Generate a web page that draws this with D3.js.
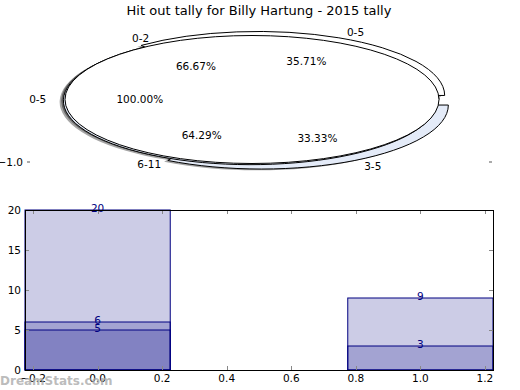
<!DOCTYPE html>
<html><head><meta charset="utf-8">
<script src="https://cdn.jsdelivr.net/npm/d3@7"></script>
<style>body{margin:0;background:#fff}svg{display:block;font-family:"DejaVu Sans",sans-serif}</style>
</head><body>
<svg id="c" width="520" height="390"></svg>
<script>
const title = "Hit out tally for Billy Hartung - 2015 tally";
// pie data (three overlaid pies, drawn in this order; the last one on top)
const pie2Labels = ["0-2", "3-5"];   const pie2Values = [6, 3];  const pie2Explode = [0, 0.1];
const pie3Labels = ["0-5", "6-11"];  const pie3Values = [5, 9];  const pie3Explode = [0.07, 0.02];
const pie1Labels = ["0-5"];          const pie1Values = [20];    const pie1Explode = [0];
const pie2Colors = ["#ffffff", "#e4ebf8"];
const pie3Colors = ["#ffffff", "#e4ebf8"];
const pie1Colors = ["#ffffff"];
const pieYTicks = [-1.0];
// bar data
const barPositions = [0, 1];
const barSeries1 = [20, 9];
const barSeries2 = [6, 3];
const barSeries3 = [5, null];
const xTicks = [-0.2, 0.0, 0.2, 0.4, 0.6, 0.8, 1.0, 1.2];
const yTicks = [0, 5, 10, 15, 20];

const svg = d3.select("#c");
const fmtMinus = s => s.replace("-", "\u2212");

svg.append("text").attr("x", 259).attr("y", 15).attr("text-anchor", "middle")
  .attr("font-size", 13).text(title);

// ---------- pie ----------
const cx = 252, cy = 99.5, sx = 187, sy = 64;
const pu = d3.scaleLinear().domain([-1, 1]).range([cx - sx, cx + sx]);
const pv = d3.scaleLinear().domain([-1, 1]).range([cy + sy, cy - sy]);
const pieGen = d3.pie().sort(null).startAngle(Math.PI / 2).endAngle(Math.PI / 2 - 2 * Math.PI);
const arcGen = d3.arc().innerRadius(0).outerRadius(1);
const ellipsePath = "M1,0A1,1,0,1,1,-1,0A1,1,0,1,1,1,0Z";
const pies = [
  {labels: pie2Labels, values: pie2Values, explode: pie2Explode, colors: pie2Colors},
  {labels: pie3Labels, values: pie3Values, explode: pie3Explode, colors: pie3Colors},
  {labels: pie1Labels, values: pie1Values, explode: pie1Explode, colors: pie1Colors}
];
const wedges = [];
pies.forEach((p, pi) => {
  const arcs = pieGen(p.values);
  const total = d3.sum(p.values);
  arcs.forEach((a, i) => {
    const m = (a.startAngle + a.endAngle) / 2;
    const dx = Math.sin(m), dy = Math.cos(m);
    const e = p.explode[i];
    const full = arcs.length === 1;
    wedges.push({d: full ? ellipsePath : arcGen(a), ox: e * dx, oy: e * dy, dx, dy,
      color: p.colors[i], label: p.labels[i], pct: p.values[i] / total * 100});
  });
});
const shadowG = svg.append("g"), wedgeG = svg.append("g"), pieTextG = svg.append("g");
wedges.forEach(w => {
  shadowG.append("path").attr("d", w.d)
    .attr("transform", `translate(${pu(w.ox - 0.02)},${pv(w.oy - 0.02)}) scale(${sx},${sy})`)
    .attr("fill", "#4d4d4d").attr("fill-opacity", 0.5).attr("stroke", "none");
});
wedges.forEach(w => {
  wedgeG.append("path").attr("d", w.d)
    .attr("transform", `translate(${pu(w.ox)},${pv(w.oy)}) scale(${sx},${sy})`)
    .attr("fill", w.color).attr("stroke", "#000").attr("stroke-width", 1)
    .attr("vector-effect", "non-scaling-stroke");
});
wedges.forEach(w => {
  const lx = w.ox + 1.1 * w.dx, ly = w.oy + 1.1 * w.dy;
  pieTextG.append("text").attr("x", pu(lx)).attr("y", pv(ly)).attr("dy", "0.35em")
    .attr("text-anchor", lx > 0 ? "start" : "end").attr("font-size", 10.5).text(w.label);
  const px = w.ox + 0.6 * w.dx, py = w.oy + 0.6 * w.dy;
  pieTextG.append("text").attr("x", pu(px)).attr("y", pv(py)).attr("dy", "0.35em")
    .attr("text-anchor", "middle").attr("font-size", 10.5).text(w.pct.toFixed(2) + "%");
});
pieYTicks.forEach(t => {
  const y = 162;
  svg.append("text").attr("x", 23).attr("y", y).attr("dy", "0.35em").attr("text-anchor", "end")
    .attr("font-size", 10.5).text(fmtMinus(t.toFixed(1)));
  svg.append("line").attr("x1", 27).attr("x2", 30).attr("y1", y).attr("y2", y).attr("stroke", "#aaa").attr("stroke-width", 2);
  svg.append("line").attr("x1", 489).attr("x2", 492).attr("y1", y).attr("y2", y).attr("stroke", "#aaa").attr("stroke-width", 2);
});

// ---------- bars ----------
const L = 25, R = 493, T = 210, B = 370;
const x = d3.scaleLinear().domain([-0.225, 1.225]).range([L, R]);
const y = d3.scaleLinear().domain([0, 20]).range([B, T]);
const barW = 0.45;
const barG = svg.append("g");
[barSeries1, barSeries2, barSeries3].forEach(series => {
  barPositions.forEach((p, i) => {
    const v = series[i];
    if (v == null) return;
    barG.append("rect").attr("x", x(p - barW / 2)).attr("y", y(v))
      .attr("width", x(p + barW / 2) - x(p - barW / 2)).attr("height", y(0) - y(v))
      .attr("fill", "#000080").attr("fill-opacity", 0.2)
      .attr("stroke", "#000080").attr("stroke-width", 1);
  });
});
[barSeries1, barSeries2, barSeries3].forEach(series => {
  barPositions.forEach((p, i) => {
    const v = series[i];
    if (v == null) return;
    barG.append("text").attr("x", x(p)).attr("y", y(v) + 2).attr("text-anchor", "middle")
      .attr("font-size", 10.5).attr("fill", "#000080").text(v);
  });
});
const axG = svg.append("g");
xTicks.forEach(t => {
  const xx = Math.round(x(t)) + 0.5;
  axG.append("line").attr("x1", xx).attr("x2", xx).attr("y1", B).attr("y2", B - 4).attr("stroke", "#888");
  axG.append("line").attr("x1", xx).attr("x2", xx).attr("y1", T).attr("y2", T + 4).attr("stroke", "#888");
  axG.append("text").attr("x", x(t)).attr("y", B + 12).attr("text-anchor", "middle")
    .attr("font-size", 10.5).text(fmtMinus(t.toFixed(1)));
});
yTicks.forEach(t => {
  const yy = Math.round(y(t)) + 0.5;
  axG.append("line").attr("x1", L).attr("x2", L + 4).attr("y1", yy).attr("y2", yy).attr("stroke", "#888");
  axG.append("line").attr("x1", R).attr("x2", R - 4).attr("y1", yy).attr("y2", yy).attr("stroke", "#888");
  axG.append("text").attr("x", L - 4).attr("y", y(t)).attr("dy", "0.35em").attr("text-anchor", "end")
    .attr("font-size", 10.5).text(t);
});
axG.append("rect").attr("x", L + 0.5).attr("y", T + 0.5).attr("width", R - L).attr("height", B - T)
  .attr("fill", "none").attr("stroke", "#000").attr("stroke-width", 1);

svg.append("text").attr("x", 0).attr("y", 385).attr("font-size", 12).attr("font-weight", "bold")
  .attr("fill", "#aaa").attr("fill-opacity", 0.8).text("DreamStats.com");
</script>
</body></html>
